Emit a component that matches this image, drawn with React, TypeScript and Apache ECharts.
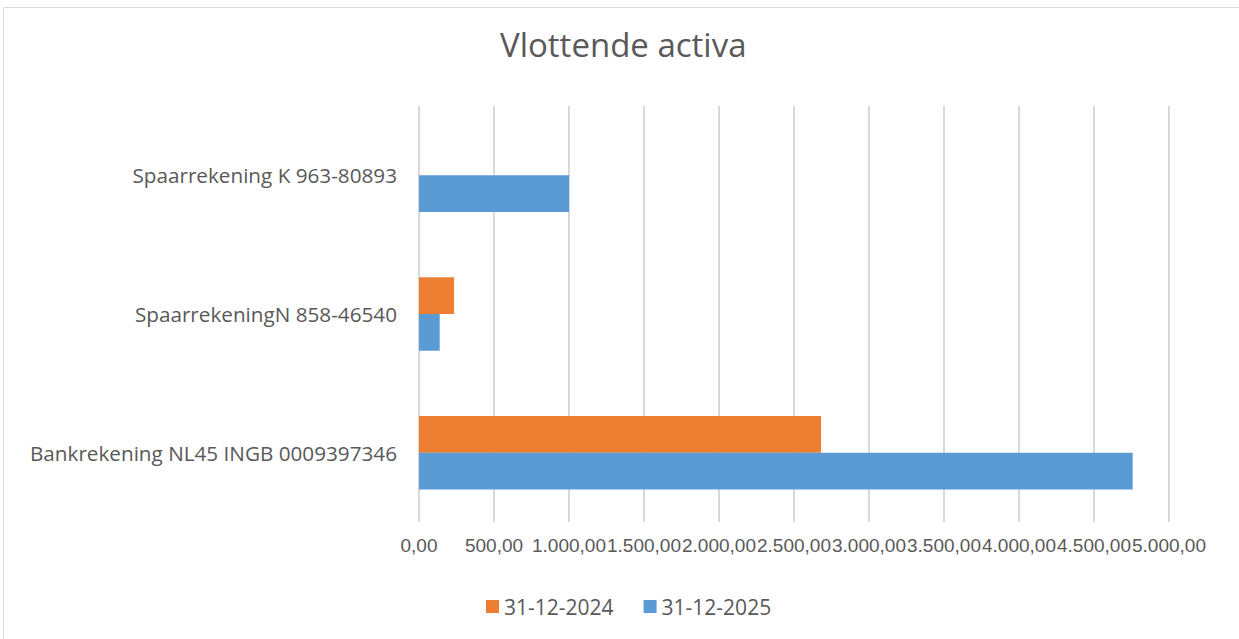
import React, { useEffect, useRef } from "react";
import * as echarts from "echarts";

const categories = [
  "Bankrekening NL45 INGB 0009397346",
  "SpaarrekeningN 858-46540",
  "Spaarrekening K 963-80893",
];
const seriesNames = ["31-12-2024", "31-12-2025"];
const values2024 = [2680, 233, 0];
const values2025 = [4758, 138, 1000];
const axisMin = 0;
const axisMax = 5000;
const axisStep = 500;

const fmt = (v: number) => {
  const fixed = Math.abs(v).toFixed(2);
  const [intPart, dec] = fixed.split(".");
  const withDots = intPart.replace(/\B(?=(\d{3})+(?!\d))/g, ".");
  return (v < 0 ? "-" : "") + withDots + "," + dec;
};

export default function App() {
  const ref = useRef<HTMLDivElement>(null);
  useEffect(() => {
    document.body.style.margin = "0";
    if (!ref.current) return;
    const chart = echarts.init(ref.current, null, { renderer: "svg" });
    const textColor = "#595959";
    chart.setOption({
      animation: false,
      backgroundColor: "#ffffff",
      title: {
        text: "Vlottende activa",
        left: 500,
        top: 28,
        padding: 0,
        textStyle: {
          fontFamily: "Open Sans",
          fontSize: 33,
          fontWeight: "normal",
          color: textColor,
        },
      },
      legend: {
        data: seriesNames,
        left: 486,
        top: 596,
        padding: 0,
        itemWidth: 13,
        itemHeight: 13,
        itemGap: 30,
        icon: "rect",
        textStyle: {
          fontFamily: "Open Sans",
          fontSize: 21,
          color: textColor,
        },
      },
      grid: { left: 419, right: 70, top: 106, bottom: 117, containLabel: false },
      xAxis: {
        type: "value",
        min: axisMin,
        max: axisMax,
        interval: axisStep,
        axisLine: { show: false },
        axisTick: { show: false },
        splitLine: { show: true, lineStyle: { color: "#d9d9d9", width: 2 } },
        axisLabel: {
          formatter: (v: number) => fmt(v),
          fontFamily: "Liberation Sans",
          fontSize: 19,
          color: textColor,
          margin: 14,
          hideOverlap: false,
          showMinLabel: true,
          showMaxLabel: true,
        },
      },
      yAxis: {
        type: "category",
        data: categories,
        axisLine: { show: false },
        axisTick: { show: false },
        splitLine: { show: false },
        axisLabel: {
          fontFamily: "Open Sans",
          fontSize: 20.7,
          color: textColor,
          margin: 22,
        },
      },
      series: [
        {
          name: seriesNames[0],
          type: "bar",
          data: values2024,
          itemStyle: { color: "#ED7D31" },
          barGap: "0%",
          barCategoryGap: "47%",
        },
        {
          name: seriesNames[1],
          type: "bar",
          data: values2025,
          itemStyle: { color: "#5B9BD5" },
          barGap: "0%",
          barCategoryGap: "47%",
        },
      ],
      graphic: [
        {
          type: "rect",
          shape: { x: 3.5, y: 7.5, width: 1300, height: 700 },
          style: { fill: "none", stroke: "#d9d9d9", lineWidth: 1 },
          silent: true,
        },
      ],
    });
    return () => chart.dispose();
  }, []);
  return <div ref={ref} style={{ width: 1239, height: 639 }} />;
}
